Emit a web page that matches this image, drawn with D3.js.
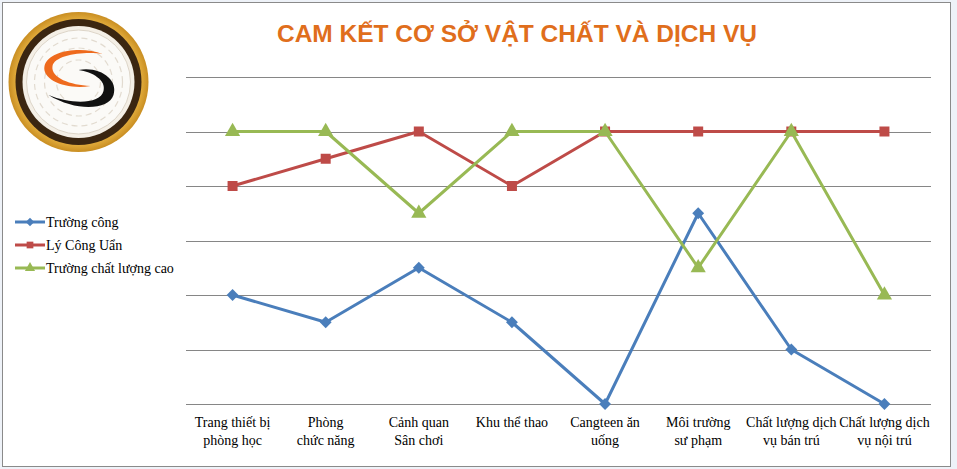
<!DOCTYPE html>
<html>
<head>
<meta charset="utf-8">
<script src="https://cdn.jsdelivr.net/npm/d3@7"></script>
<style>
  html, body { margin: 0; padding: 0; background: #eef2f8; }
  svg { display: block; }
</style>
</head>
<body>
<div id="chart"></div>
<script>
const CATEGORIES = [
  ['Trang thiết bị', 'phòng học'],
  ['Phòng', 'chức năng'],
  ['Cảnh quan', 'Sân chơi'],
  ['Khu thể thao'],
  ['Cangteen ăn', 'uống'],
  ['Môi trường', 'sư phạm'],
  ['Chất lượng dịch', 'vụ bán trú'],
  ['Chất lượng dịch', 'vụ nội trú']
]
const SERIES_NAMES = ['Trường công', 'Lý Công Uẩn', 'Trường chất lượng cao']
const TRUONG_CONG = [2, 1.5, 2.5, 1.5, 0, 3.5, 1, 0]
const LY_CONG_UAN = [4, 4.5, 5, 4, 5, 5, 5, 5]
const CHAT_LUONG_CAO = [5, 5, 3.5, 5, 5, 2.5, 5, 2]
const Y_TICKS = [0, 1, 2, 3, 4, 5, 6]
const TITLE = 'CAM KẾT CƠ SỞ VẬT CHẤT VÀ DỊCH VỤ'

const W = 957
const H = 469
const margin = { left: 186, right: 26, top: 77, bottom: 65 }
const COLORS = ['#4a7ebb', '#be4b48', '#98b954']
const SYMBOLS = [d3.symbolDiamond2, d3.symbolSquare, d3.symbolTriangle]

const svg = d3.select('#chart').append('svg')
  .attr('width', W)
  .attr('height', H)

// khung nền
svg.append('rect')
  .attr('x', 2.5).attr('y', 2.5)
  .attr('width', 948).attr('height', 464)
  .attr('fill', '#fff')
  .attr('stroke', '#8a8a8a')
  .attr('stroke-width', 1)

const x = d3.scaleBand()
  .domain(d3.range(CATEGORIES.length))
  .range([margin.left, W - margin.right])

const y = d3.scaleLinear()
  .domain([0, 6])
  .range([H - margin.bottom, margin.top])

// lưới ngang
svg.append('g')
  .selectAll('line')
  .data(Y_TICKS)
  .join('line')
  .attr('x1', margin.left)
  .attr('x2', W - margin.right)
  .attr('y1', d => Math.round(y(d)) + 0.5)
  .attr('y2', d => Math.round(y(d)) + 0.5)
  .attr('stroke', '#868686')
  .attr('stroke-width', 1)

// nhãn trục x
const xAxis = svg.append('g')
  .attr('transform', `translate(0,${y(0)})`)
  .call(d3.axisBottom(x).tickSize(0).tickFormat(''))
xAxis.select('.domain').remove()

xAxis.selectAll('.tick').append('text')
  .attr('fill', '#000')
  .attr('text-anchor', 'middle')
  .style('font-family', '"Liberation Serif", "Times New Roman", serif')
  .style('font-size', '14px')
  .selectAll('tspan')
  .data(i => CATEGORIES[i])
  .join('tspan')
  .attr('x', 0)
  .attr('y', (d, j) => 23 + j * 18)
  .text(d => d)

// các đường dữ liệu
const allSeries = [TRUONG_CONG, LY_CONG_UAN, CHAT_LUONG_CAO]
const line = d3.line()
  .x((d, i) => x(i) + x.bandwidth() / 2)
  .y(d => y(d))

allSeries.forEach((values, s) => {
  const g = svg.append('g')
  g.append('path')
    .datum(values)
    .attr('d', line)
    .attr('fill', 'none')
    .attr('stroke', COLORS[s])
    .attr('stroke-width', 3)
    .attr('stroke-linejoin', 'round')
  g.selectAll('path.mark')
    .data(values)
    .join('path')
    .attr('class', 'mark')
    .attr('transform', (d, i) => `translate(${x(i) + x.bandwidth() / 2},${y(d)})`)
    .attr('d', d3.symbol().type(SYMBOLS[s]).size(s === 0 ? 90 : 100))
    .attr('fill', COLORS[s])
})

// tiêu đề
svg.append('text')
  .attr('x', 517)
  .attr('y', 42)
  .attr('text-anchor', 'middle')
  .style('font-family', '"Liberation Sans", Arial, sans-serif')
  .style('font-weight', 'bold')
  .style('font-size', '24.5px')
  .attr('fill', '#e06e1c')
  .text(TITLE)

// chú giải
const legend = svg.append('g')
  .selectAll('g')
  .data(SERIES_NAMES)
  .join('g')
  .attr('transform', (d, i) => `translate(15,${222 + i * 23})`)
legend.append('line')
  .attr('x1', 0).attr('x2', 30)
  .attr('stroke', (d, i) => COLORS[i])
  .attr('stroke-width', 3)
legend.append('path')
  .attr('transform', 'translate(15,0)')
  .attr('d', (d, i) => d3.symbol().type(SYMBOLS[i]).size(45)())
  .attr('fill', (d, i) => COLORS[i])
legend.append('text')
  .attr('x', 31)
  .attr('y', 5)
  .style('font-family', '"Liberation Serif", "Times New Roman", serif')
  .style('font-size', '14px')
  .attr('fill', '#000')
  .text(d => d)

// logo
const logo = svg.append('g').attr('transform', 'translate(78.5,82)')
const grad = svg.append('defs').append('radialGradient').attr('id', 'gold')
grad.append('stop').attr('offset', '82%').attr('stop-color', '#f2c04e')
grad.append('stop').attr('offset', '100%').attr('stop-color', '#c98e22')
logo.append('circle').attr('r', 70).attr('fill', 'url(#gold)')
logo.append('circle').attr('r', 63).attr('fill', '#3b2611')
logo.append('circle').attr('r', 56).attr('fill', '#f4efe6')
logo.append('circle').attr('r', 52).attr('fill', '#fbfaf7').attr('stroke', '#ddd5c8').attr('stroke-width', 1)
;[44, 34, 22].forEach(r => {
  logo.append('circle').attr('r', r).attr('fill', 'none')
    .attr('stroke', '#e2dbd0').attr('stroke-width', 1.2).attr('stroke-dasharray', '6 4')
})
logo.append('path')
  .attr('d', 'M24,-28 C4,-36 -30,-32 -34,-16 C-37,-2 -12,8 12,4 C-8,3 -28,-4 -26,-16 C-24,-27 6,-31 24,-28 Z')
  .attr('fill', '#ee6a1d')
logo.append('path')
  .attr('d', 'M0,-12 C22,-16 40,-2 35,13 C30,28 -2,30 -30,13 C-6,23 22,22 25,9 C28,-2 14,-10 0,-12 Z')
  .attr('fill', '#111')
</script>
</body>
</html>
